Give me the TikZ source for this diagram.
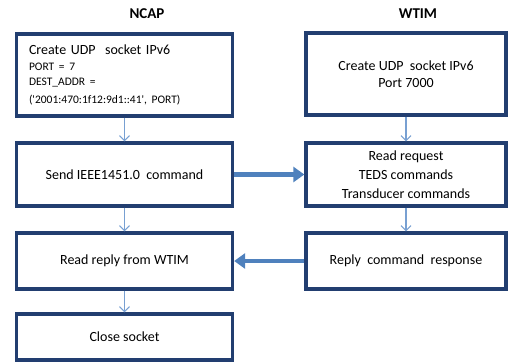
\documentclass[tikz,border=0pt]{standalone}
\usepackage{fontspec}
\setmainfont{Carlito}
\usetikzlibrary{arrows.meta}
\definecolor{boxblue}{RGB}{34,62,112}
\definecolor{arrblue}{RGB}{79,129,189}
\definecolor{thinblue}{RGB}{120,160,210}

\begin{document}
\begin{tikzpicture}[x=1pt,y=-1pt,
  box/.style={draw=boxblue,line width=3.3pt,fill=white,minimum height=#1,font=\fontsize{14}{17}\selectfont,align=center},
  lbox/.style={box=#1,minimum width=216pt},
  rbox/.style={box=#1,minimum width=200pt},
  flow/.style={-{Straight Barb[length=5pt,width=10pt]},thinblue,line width=1.1pt},
  msg/.style={-{Triangle[length=11pt,width=15pt]},arrblue,line width=4.5pt},
  title/.style={font=\bfseries\fontsize{15}{17}\selectfont}]
  \useasboundingbox (0,0) rectangle (509,362);
  % titulos
  \node[title] (tn) at (147,14) {NCAP};
  \node[title] (tw) at (418,14) {WTIM};
  % columna NCAP
  \node[lbox=82pt,text width=191pt,inner xsep=11pt,align=left] (n1) at (124.5,75) {Create UDP\ \ socket IPv6\\[1pt]
    {\fontsize{11.5}{15}\selectfont PORT = 7\\ DEST\_ADDR =\\[1pt] (\textquotesingle2001:470:1f12:9d1::41\textquotesingle, PORT)}};
  \node[lbox=63pt] (n2) at (124.5,174.5) {Send IEEE1451.0\ \ command};
  \node[lbox=56pt] (n3) at (124.5,261) {Read reply from WTIM};
  \node[lbox=46pt] (n4) at (124.5,337) {Close socket};
  % columna WTIM
  \node[rbox=82pt] (w1) at (406,74) {Create UDP\ \ socket IPv6\\ Port 7000};
  \node[rbox=63pt,font=\fontsize{14}{19}\selectfont,inner ysep=1pt] (w2) at (406,174.5) {Read request\\ TEDS commands\\ Transducer commands};
  \node[rbox=56pt] (w3) at (406,261) {Reply\ \ command\ \ response};
  % flechas
  \draw[flow] (n1) -- (n2);
  \draw[flow] (n2) -- (n3);
  \draw[flow] (n3) -- (n4);
  \draw[flow] (w1) -- (w2);
  \draw[flow] (w2) -- (w3);
  \draw[msg] (n2) -- (w2);
  \draw[msg] (w3) -- (n3);
\end{tikzpicture}
\end{document}
